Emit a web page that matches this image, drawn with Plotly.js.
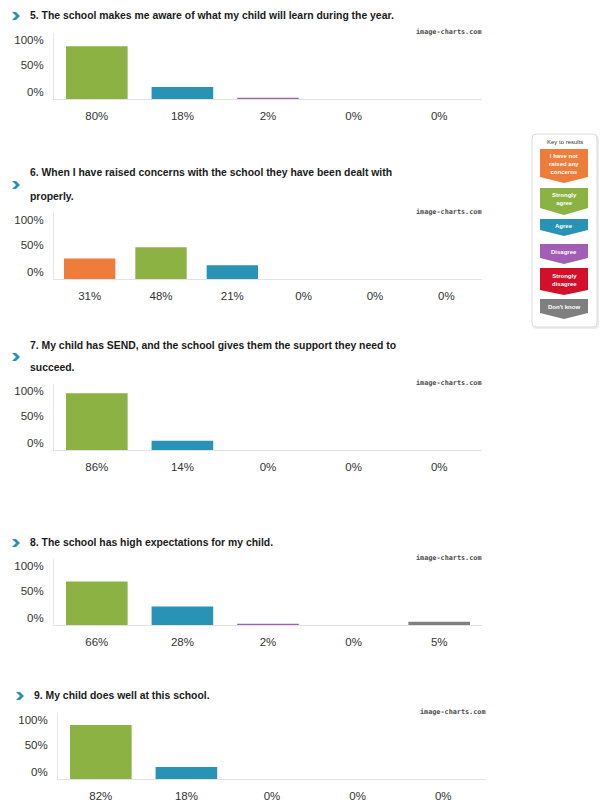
<!DOCTYPE html>
<html>
<head>
<meta charset="utf-8">
<script src="https://cdn.plot.ly/plotly-3.0.1.min.js"></script>
<style>
  body { margin: 0; background: #fff; }
  #chart { width: 608px; height: 808px; }
</style>
</head>
<body>
<div id="chart"></div>
<script>
// Categorias de respuesta
var answers = ['Strongly agree', 'Agree', 'Disagree', 'Strongly disagree', "Don't know"];
var answersWithConcerns = ['I have not raised any concerns', 'Strongly agree', 'Agree', 'Disagree', 'Strongly disagree', "Don't know"];

// Preguntas (cada linea del titulo por separado)
var titles = [
    ['5. The school makes me aware of what my child will learn during the year.'],
    ['6. When I have raised concerns with the school they have been dealt with', 'properly.'],
    ['7. My child has SEND, and the school gives them the support they need to', 'succeed.'],
    ['8. The school has high expectations for my child.'],
    ['9. My child does well at this school.']
];

// Porcentajes por pregunta
var q5Values = [80, 18, 2, 0, 0];
var q6Values = [31, 48, 21, 0, 0, 0];
var q7Values = [86, 14, 0, 0, 0];
var q8Values = [66, 28, 2, 0, 5];
var q9Values = [82, 18, 0, 0, 0];

var yTickText = ['0%', '50%', '100%'];

// Leyenda
var legendTitle = 'Key to results';
var legendLabels = ['I have not<br>raised any<br>concerns', 'Strongly<br>agree', 'Agree', 'Disagree', 'Strongly<br>disagree', "Don't know"];

var colorOf = {
    'I have not raised any concerns': '#EE7D3B',
    'Strongly agree': '#8CB244',
    'Agree': '#2993B5',
    'Disagree': '#A25DB5',
    'Strongly disagree': '#D2102A',
    "Don't know": '#7F7F7F'
};

var W = 608, H = 808;
function px(x) { return x / W; }
function py(y) { return 1 - y / H; }

// Posicion de cada panel en pixeles
var panels = [
    { cats: answers, vals: q5Values, x0: 54, x1: 482, top: 33, base: 99, chev: [16, 16], titleX: 28, titleY: [15] },
    { cats: answersWithConcerns, vals: q6Values, x0: 54, x1: 482, top: 213, base: 279, chev: [16, 185], titleX: 28, titleY: [173, 196] },
    { cats: answers, vals: q7Values, x0: 54, x1: 482, top: 384, base: 450, chev: [16, 357], titleX: 28, titleY: [345, 368] },
    { cats: answers, vals: q8Values, x0: 54, x1: 482, top: 559, base: 625, chev: [16, 543], titleX: 28, titleY: [542] },
    { cats: answers, vals: q9Values, x0: 58, x1: 486, top: 713, base: 779, chev: [20, 696], titleX: 32, titleY: [695] }
];

var data = [];
var layout = {
    width: W,
    height: H,
    margin: { l: 0, r: 0, t: 0, b: 0 },
    paper_bgcolor: '#fff',
    plot_bgcolor: 'rgba(0,0,0,0)',
    showlegend: false,
    bargap: 0.28,
    font: { family: 'Liberation Sans, Arial, sans-serif', size: 11, color: '#333' },
    annotations: [],
    shapes: []
};

panels.forEach(function (p, i) {
    var n = i === 0 ? '' : String(i + 1);
    data.push({
        type: 'bar',
        x: p.cats,
        y: p.vals,
        xaxis: 'x' + n,
        yaxis: 'y' + n,
        marker: { color: p.cats.map(function (c) { return colorOf[c]; }), line: { width: 0 } },
        hoverinfo: 'skip'
    });

    layout['xaxis' + n] = {
        domain: [px(p.x0), px(p.x1)],
        anchor: 'y' + n,
        type: 'category',
        tickvals: p.cats,
        ticktext: p.vals.map(function (v) { return v + '%'; }),
        tickfont: { size: 11.5, color: '#333' },
        ticklabelstandoff: 6,
        showline: true,
        linecolor: '#e2e2e2',
        linewidth: 1,
        showgrid: false,
        zeroline: false,
        ticks: '',
        fixedrange: true
    };
    layout['yaxis' + n] = {
        domain: [py(p.base), py(p.top)],
        anchor: 'x' + n,
        range: [0, 100],
        tickvals: [11, 51, 89],
        ticktext: yTickText,
        tickfont: { size: 11.5, color: '#333' },
        ticklabelstandoff: 7,
        showline: true,
        linecolor: '#e6e6e6',
        linewidth: 1,
        showgrid: false,
        zeroline: false,
        ticks: '',
        fixedrange: true
    };

    // Titulo de la pregunta
    titles[i].forEach(function (line, k) {
        layout.annotations.push({
            xref: 'paper', yref: 'paper',
            x: px(p.titleX), y: py(p.titleY[k]),
            xanchor: 'left', yanchor: 'middle',
            text: '<b>' + line + '</b>',
            showarrow: false,
            font: { size: 10.4, color: '#1a1a1a' }
        });
    });

    // Flecha del titulo
    var cx = p.chev[0], cy = p.chev[1];
    var pts = [[cx - 4, cy - 4], [cx, cy - 4], [cx + 4, cy], [cx, cy + 4], [cx - 4, cy + 4], [cx, cy]];
    layout.shapes.push({
        type: 'path', xref: 'paper', yref: 'paper',
        path: 'M' + pts.map(function (q) { return px(q[0]) + ',' + py(q[1]); }).join(' L') + ' Z',
        fillcolor: '#2993B5', line: { width: 0 }
    });

    // Marca de agua
    layout.annotations.push({
        xref: 'paper', yref: 'paper',
        x: px(p.x1 + 1), y: py(p.top - 1),
        xanchor: 'right', yanchor: 'middle',
        text: '<b>image-charts.com</b>',
        showarrow: false,
        font: { family: 'DejaVu Sans Mono, monospace', size: 6.8, color: '#4a4a4a' }
    });
});

// Caja de la leyenda
function roundRect(x0, y0, x1, y1, r) {
    return 'M' + px(x0 + r) + ',' + py(y0) +
        ' L' + px(x1 - r) + ',' + py(y0) +
        ' Q' + px(x1) + ',' + py(y0) + ' ' + px(x1) + ',' + py(y0 + r) +
        ' L' + px(x1) + ',' + py(y1 - r) +
        ' Q' + px(x1) + ',' + py(y1) + ' ' + px(x1 - r) + ',' + py(y1) +
        ' L' + px(x0 + r) + ',' + py(y1) +
        ' Q' + px(x0) + ',' + py(y1) + ' ' + px(x0) + ',' + py(y1 - r) +
        ' L' + px(x0) + ',' + py(y0 + r) +
        ' Q' + px(x0) + ',' + py(y0) + ' ' + px(x0 + r) + ',' + py(y0) + ' Z';
}
layout.shapes.push({ type: 'path', xref: 'paper', yref: 'paper', path: roundRect(533, 135, 599, 329, 4), fillcolor: '#ececec', line: { width: 0 } });
layout.shapes.push({ type: 'path', xref: 'paper', yref: 'paper', path: roundRect(532, 134, 597, 327, 4), fillcolor: '#fff', line: { color: '#dcdcdc', width: 1 } });
layout.annotations.push({
    xref: 'paper', yref: 'paper', x: px(565), y: py(142),
    xanchor: 'center', yanchor: 'middle', text: legendTitle, showarrow: false,
    font: { size: 6, color: '#333' }
});

var keyOrder = answersWithConcerns;
var keyBoxes = [[149, 177, 183], [188, 208, 215], [219, 230, 236], [244, 258, 264], [268, 290, 295], [299, 313, 319]];
keyOrder.forEach(function (c, i) {
    var b = keyBoxes[i];
    var x0 = 540, x1 = 588, xc = 564;
    layout.shapes.push({
        type: 'path', xref: 'paper', yref: 'paper',
        path: 'M' + px(x0) + ',' + py(b[0]) + ' L' + px(x1) + ',' + py(b[0]) + ' L' + px(x1) + ',' + py(b[1]) +
            ' L' + px(xc) + ',' + py(b[2]) + ' L' + px(x0) + ',' + py(b[1]) + ' Z',
        fillcolor: colorOf[c], line: { width: 0 }
    });
    layout.annotations.push({
        xref: 'paper', yref: 'paper', x: px(xc), y: py((b[0] + b[1]) / 2 + 1),
        xanchor: 'center', yanchor: 'middle', text: '<b>' + legendLabels[i] + '</b>', showarrow: false,
        font: { size: 6, color: '#fff' }
    });
});

Plotly.newPlot('chart', data, layout, { displayModeBar: false, staticPlot: true });
</script>
</body>
</html>
